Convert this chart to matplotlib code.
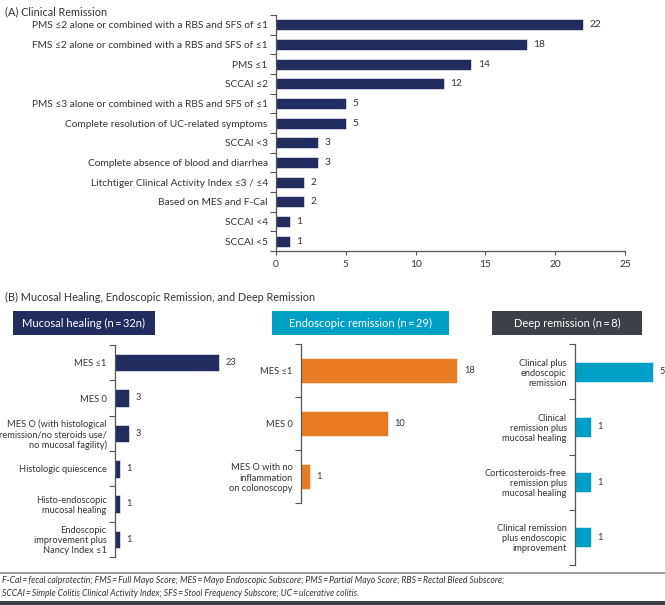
import matplotlib
matplotlib.use("Agg")
import matplotlib.pyplot as plt
from matplotlib.patches import Rectangle

plt.rcParams['font.family'] = ['Lato', 'DejaVu Sans']

W, H = 665, 605
NAVY = '#232c5e'
ORANGE = '#e87b24'
TEAL = '#00a0c6'
DARK = '#3d4047'
TXT = '#333333'
SPINE = '#555555'

# (A) clinical remission
clin_labels = [
    'PMS ≤2 alone or combined with a RBS and SFS of ≤1',
    'FMS ≤2 alone or combined with a RBS and SFS of ≤1',
    'PMS ≤1',
    'SCCAI ≤2',
    'PMS ≤3 alone or combined with a RBS and SFS of ≤1',
    'Complete resolution of UC-related symptoms',
    'SCCAI <3',
    'Complete absence of blood and diarrhea',
    'Litchtiger Clinical Activity Index ≤3 / ≤4',
    'Based on MES and F-Cal',
    'SCCAI <4',
    'SCCAI <5',
]
clin_values = [22, 18, 14, 12, 5, 5, 3, 3, 2, 2, 1, 1]
clin_ticks = [0, 5, 10, 15, 20, 25]

# (B) panels
muc_title = 'Mucosal healing (n\u2009=\u200932n)'
muc_labels = ['MES ≤1', 'MES 0',
              'MES O (with histological\nremission/no steroids use/\nno mucosal fagility)',
              'Histologic quiescence', 'Histo-endoscopic\nmucosal healing',
              'Endoscopic\nimprovement plus\nNancy Index ≤1']
muc_values = [23, 3, 3, 1, 1, 1]

endo_title = 'Endoscopic remission (n\u2009=\u200929)'
endo_labels = ['MES ≤1', 'MES 0', 'MES O with no\ninflammation\non colonoscopy']
endo_values = [18, 10, 1]

deep_title = 'Deep remission (n\u2009=\u20098)'
deep_labels = ['Clinical plus\nendoscopic\nremission',
               'Clinical\nremission plus\nmucosal healing',
               'Corticosteroids-free\nremission plus\nmucosal healing',
               'Clinical remission\nplus endoscopic\nimprovement']
deep_values = [5, 1, 1, 1]

footnote = ['F-Cal\u2009=\u2009fecal calprotectin; FMS\u2009=\u2009Full Mayo Score; MES\u2009=\u2009Mayo Endoscopic Subscore; '
            'PMS\u2009=\u2009Partial Mayo Score; RBS\u2009=\u2009Rectal Bleed Subscore;',
            'SCCAI\u2009=\u2009Simple Colitis Clinical Activity Index; SFS\u2009=\u2009Stool Frequency Subscore; '
            'UC\u2009=\u2009ulcerative colitis.']

fig = plt.figure(figsize=(W / 100, H / 100), dpi=100)


def px_axes(left, top, right, bottom):
    return fig.add_axes((left / W, 1 - bottom / H, (right - left) / W, (bottom - top) / H))


def bar_panel(ax, labels, values, color, xmax, height, fs, pad_val, show_x=False):
    n = len(values)
    ypos = list(range(n))
    ax.barh(ypos, values, height=height, color=color, edgecolor='white', linewidth=0.4)
    ax.set_ylim(n - 0.5, -0.5)
    ax.set_xlim(0, xmax)
    ax.set_yticks(ypos)
    ax.set_yticklabels(labels, fontsize=fs, color=TXT, linespacing=1.15)
    ax.set_yticks([i - 0.5 for i in range(n + 1)], minor=True)
    ax.tick_params(axis='y', which='major', length=0, pad=6)
    ax.tick_params(axis='y', which='minor', length=4, width=0.8, color=SPINE, direction='out')
    for s in ['top', 'right']:
        ax.spines[s].set_visible(False)
    ax.spines['left'].set_color(SPINE)
    ax.spines['left'].set_linewidth(0.9)
    if show_x:
        ax.spines['bottom'].set_color(SPINE)
        ax.spines['bottom'].set_linewidth(0.9)
        ax.tick_params(axis='x', length=3, width=0.8, color=SPINE, labelsize=fs, labelcolor=TXT)
    else:
        ax.spines['bottom'].set_visible(False)
        ax.set_xticks([])
    for y, v in zip(ypos, values):
        ax.text(v + pad_val, y, str(v), va='center', ha='left', fontsize=fs, color=TXT)
    ax.patch.set_visible(False)


# panel A
axA = px_axes(276, 15, 625, 251)
bar_panel(axA, clin_labels, clin_values, NAVY, 25, 0.56, 7.25, 0.45, show_x=True)
axA.set_xticks(clin_ticks)
fig.text(5 / W, 1 - 12 / H, '(A) Clinical Remission', fontsize=7.8, color=TXT, va='center')

# panel B
fig.text(5 / W, 1 - 297 / H, '(B) Mucosal Healing, Endoscopic Remission, and Deep Remission',
         fontsize=7.8, color=TXT, va='center')

headers = [(13, 155, muc_title, NAVY), (272, 449, endo_title, TEAL), (492, 642, deep_title, DARK)]
for x0, x1, title, col in headers:
    fig.patches.append(Rectangle((x0 / W, 1 - 335 / H), (x1 - x0) / W, 24 / H,
                                 transform=fig.transFigure, facecolor=col, edgecolor='none'))
    fig.text((x0 + x1) / 2 / W, 1 - 323 / H, title, fontsize=8, color='white',
             ha='center', va='center')

axB1 = px_axes(115, 345, 240, 557)
bar_panel(axB1, muc_labels, muc_values, NAVY, 125 / 4.52, 0.5, 6.7, 1.5)

axB2 = px_axes(301, 344, 501, 503)
bar_panel(axB2, endo_labels, endo_values, ORANGE, 200 / 8.67, 0.47, 6.7, 0.8)

axB3 = px_axes(575, 344, 660, 565)
bar_panel(axB3, deep_labels, deep_values, TEAL, 85 / 15.6, 0.36, 6.7, 0.45)

# footer
fig.add_artist(plt.Line2D([0, 1], [1 - 572.5 / H, 1 - 572.5 / H], transform=fig.transFigure,
                          color='#8a8a8a', lw=1.2))
fig.text(2 / W, 1 - 580.5 / H, footnote[0], fontsize=6.2, style='italic', color=TXT, va='center')
fig.text(2 / W, 1 - 593 / H, footnote[1], fontsize=6.2, style='italic', color=TXT, va='center')
fig.patches.append(Rectangle((0, 0), 1, 4.5 / H, transform=fig.transFigure,
                             facecolor=DARK, edgecolor='none'))

fig.savefig('out.png', dpi=100)
